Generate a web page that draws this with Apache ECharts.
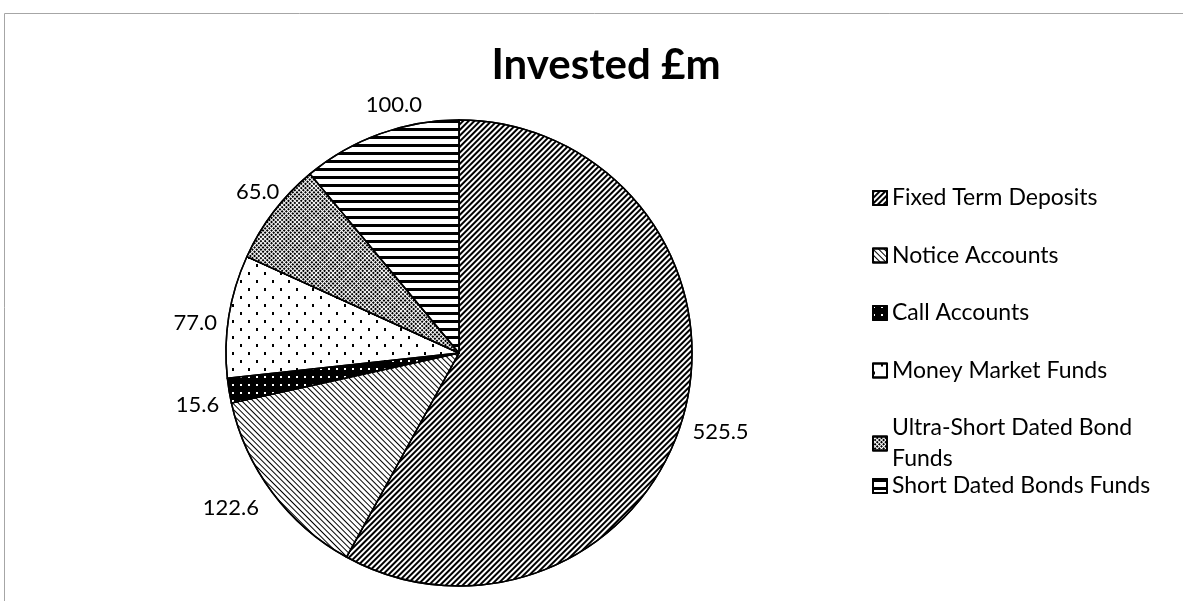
<!DOCTYPE html>
<html>
<head>
<meta charset="utf-8">
<script src="https://cdn.jsdelivr.net/npm/echarts@6/dist/echarts.min.js"></script>
<style>
  html, body { margin: 0; padding: 0; background: #fff; }
  #main { width: 1183px; height: 601px; }
</style>
</head>
<body>
<div id="main"></div>
<script>
// data
var names = ['Fixed Term Deposits', 'Notice Accounts', 'Call Accounts',
             'Money Market Funds', 'Ultra-Short Dated Bond Funds', 'Short Dated Bonds Funds'];
var values = [525.5, 122.6, 15.6, 77.0, 65.0, 100.0];

// fill patterns, one per slice
var fills = ['#fff', '#fff', '#000', '#fff', '#fff', '#fff'];
var decals = [
  {symbol: 'rect', symbolSize: 1, color: '#000', dashArrayX: [1, 0], dashArrayY: [2, 2], rotation: -Math.PI / 4},
  {symbol: 'rect', symbolSize: 1, color: '#000', dashArrayX: [1, 0], dashArrayY: [1, 3], rotation: Math.PI / 4},
  {symbol: 'rect', symbolSize: 1, color: '#fff', dashArrayX: [2, 6], dashArrayY: [2, 6]},
  {symbol: 'rect', symbolSize: 1, color: '#000', dashArrayX: [[2, 14], [0, 8, 2, 6]], dashArrayY: [3, 5]},
  {symbol: 'rect', symbolSize: 1, color: '#000', dashArrayX: [2, 1], dashArrayY: [2, 1], rotation: Math.PI / 4},
  {symbol: 'rect', symbolSize: 1, color: '#000', dashArrayX: [1, 0], dashArrayY: [3, 5]}
];
// Excel's "best fit" moves some labels off the mid angle
var labelNudge = [[-5, 19], [-2, 11], [3, 13], [1, 8], [17, -15], [50, -21]];

var font = 'Lato, "Open Sans", sans-serif';
var myChart = echarts.init(document.getElementById('main'));

var pieData = [];
for (var i = 0; i < names.length; i++) {
  pieData.push({
    name: names[i],
    value: values[i],
    itemStyle: {color: fills[i], decal: decals[i]}
  });
}

var legendText = {
  fontFamily: font,
  fontSize: 23,
  color: '#000',
  lineHeight: 31
};

var option = {
  backgroundColor: '#fff',
  animation: false,
  title: {
    text: 'Invested £m',
    left: 601,
    top: 39,
    textAlign: 'center',
    textStyle: {fontFamily: font, fontSize: 42, fontWeight: 'bold', color: '#000'}
  },
  legend: [
    {
      orient: 'vertical',
      left: 867,
      top: 177.5,
      icon: 'rect',
      itemWidth: 14,
      itemHeight: 14,
      itemGap: 26.5,
      data: names.slice(0, 5),
      formatter: function (n) {
        return n === 'Ultra-Short Dated Bond Funds' ? 'Ultra-Short Dated Bond\nFunds' : n;
      },
      textStyle: legendText
    },
    {
      orient: 'vertical',
      left: 867,
      top: 465.5,
      icon: 'rect',
      itemWidth: 14,
      itemHeight: 14,
      data: names.slice(5),
      textStyle: legendText
    }
  ],
  graphic: [{
    type: 'rect',
    shape: {x: 4.5, y: 13.5, width: 1300, height: 700},
    style: {fill: 'none', stroke: '#a6a6a6', lineWidth: 1},
    silent: true
  }],
  series: [{
    type: 'pie',
    center: [459, 353],
    radius: 233,
    startAngle: 90,
    clockwise: true,
    avoidLabelOverlap: false,
    itemStyle: {borderColor: '#000', borderWidth: 1.5},
    label: {
      position: 'outside',
      fontFamily: font,
      fontSize: 22,
      color: '#000',
      formatter: function (p) { return p.value.toFixed(1); }
    },
    labelLine: {show: false, length: 8, length2: 0},
    labelLayout: function (p) {
      return {dx: labelNudge[p.dataIndex][0], dy: labelNudge[p.dataIndex][1]};
    },
    emphasis: {disabled: true},
    data: pieData
  }]
};
myChart.setOption(option);
</script>
</body>
</html>
